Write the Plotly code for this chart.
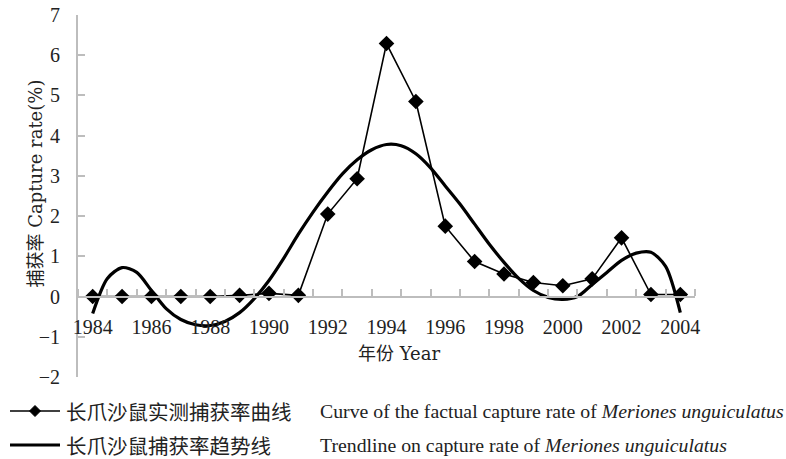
import plotly.graph_objects as go

# Observed capture rate (%)
years = list(range(1984, 2005))
capture_rate = [0, 0, 0, 0, 0, 0.03, 0.08, 0.03, 2.05, 2.93, 6.29, 4.85,
                1.75, 0.87, 0.56, 0.35, 0.27, 0.44, 1.46, 0.05, 0.05]

# Trendline (half-year samples)
trend_x = [1984.0, 1984.5, 1985.0, 1985.5, 1986.0, 1986.5, 1987.0, 1987.5,
           1988.0, 1988.5, 1989.0, 1989.5, 1990.0, 1990.5, 1991.0, 1991.5,
           1992.0, 1992.5, 1993.0, 1993.5, 1994.0, 1994.5, 1995.0, 1995.5,
           1996.0, 1996.5, 1997.0, 1997.5, 1998.0, 1998.5, 1999.0, 1999.5,
           2000.0, 2000.5, 2001.0, 2001.5, 2002.0, 2002.5, 2003.0, 2003.5,
           2004.0]
trend_y = [-0.42, 0.45, 0.72, 0.6, 0.15, -0.3, -0.57, -0.7,
           -0.72, -0.62, -0.4, -0.05, 0.4, 0.95, 1.55, 2.1,
           2.6, 3.05, 3.4, 3.65, 3.78, 3.75, 3.55, 3.2,
           2.75, 2.3, 1.8, 1.3, 0.85, 0.45, 0.15, -0.02,
           -0.07, 0.0, 0.3, 0.6, 0.9, 1.08, 1.1, 0.75,
           -0.4]

tick_years = [1984, 1986, 1988, 1990, 1992, 1994, 1996, 1998, 2000, 2002, 2004]
tick_labels = [str(y) for y in tick_years]
boundary_ticks = [1983.5 + i for i in range(22)]

W, H = 786, 459
L, R, T, B = 78, 91, 15, 82
PW, PH = W - L - R, H - T - B


def px(x):
    return (x - L) / PW


def py(y):
    return (H - B - y) / PH


SERIF = "Liberation Serif, Noto Sans CJK SC"
TITLE = "DejaVu Serif, Noto Sans CJK SC"
CJK = "Noto Sans CJK SC"
GREY = "#bdbdbd"
INK = "#222222"

fig = go.Figure()
fig.add_trace(go.Scatter(
    x=trend_x, y=trend_y, mode="lines",
    line=dict(color="black", width=3.2, shape="spline", smoothing=0.8),
    showlegend=False, hoverinfo="skip"))
fig.add_trace(go.Scatter(
    x=years, y=capture_rate, mode="lines+markers",
    line=dict(color="black", width=1.6),
    marker=dict(symbol="diamond", size=12, color="black"),
    showlegend=False))

fig.update_layout(
    width=W, height=H, autosize=False,
    margin=dict(l=L, r=R, t=T, b=B, autoexpand=False),
    paper_bgcolor="white", plot_bgcolor="white",
    font=dict(family=SERIF, color=INK, size=20),
    xaxis=dict(
        range=[1983.5, 2004.5], tickmode="array", tickvals=tick_years,
        ticktext=tick_labels, ticks="", showgrid=False, zeroline=False,
        showline=True, linecolor=GREY, linewidth=2, automargin=False,
        anchor="free", position=2 / 9, ticklabelstandoff=12,
        tickfont=dict(family=SERIF, size=20, color=INK),
        minor=dict(tickmode="array", tickvals=boundary_ticks, ticks="inside",
                   ticklen=7, tickcolor=GREY, tickwidth=2, showgrid=False),
    ),
    yaxis=dict(
        range=[-2, 7], dtick=1, tick0=0, ticks="inside", ticklen=7,
        tickcolor=GREY, tickwidth=2, showgrid=False, zeroline=False,
        showline=True, linecolor=GREY, linewidth=2, automargin=False,
        tickfont=dict(family=SERIF, size=20, color=INK),
        ticklabelstandoff=12,
    ),
)

# axis titles
fig.add_annotation(x=px(22), y=py(184), xref="paper", yref="paper",
                   text="捕获率 Capture rate(%)", showarrow=False, textangle=-90,
                   font=dict(family=TITLE, size=18, color=INK))
fig.add_annotation(x=px(399), y=py(366), xref="paper", yref="paper",
                   text="年份 Year", showarrow=False,
                   font=dict(family=TITLE, size=18, color=INK))

# legend (drawn manually)
leg_rows = [411, 445]
fig.add_shape(type="line", xref="paper", yref="paper",
              x0=px(10), x1=px(60), y0=py(leg_rows[0]), y1=py(leg_rows[0]),
              line=dict(color="black", width=1.6))
cx, cy, d = 35, leg_rows[0], 5.5
fig.add_shape(type="path", xref="paper", yref="paper",
              path=f"M {px(cx - d)} {py(cy)} L {px(cx)} {py(cy - d)} L {px(cx + d)} {py(cy)} L {px(cx)} {py(cy + d)} Z",
              fillcolor="black", line=dict(color="black", width=1))
fig.add_shape(type="line", xref="paper", yref="paper",
              x0=px(10), x1=px(60), y0=py(leg_rows[1]), y1=py(leg_rows[1]),
              line=dict(color="black", width=3.2))

leg_cn = ["长爪沙鼠实测捕获率曲线", "长爪沙鼠捕获率趋势线"]
leg_en = ["Curve of the factual capture rate of <i>Meriones unguiculatus</i>",
          "Trendline on capture rate of <i>Meriones unguiculatus</i>"]
for row, cn, en in zip(leg_rows, leg_cn, leg_en):
    fig.add_annotation(x=px(64), y=py(row), xref="paper", yref="paper",
                       xanchor="left", yanchor="middle", text=cn, showarrow=False,
                       font=dict(family=CJK, size=20.5, color=INK))
    fig.add_annotation(x=px(318), y=py(row), xref="paper", yref="paper",
                       xanchor="left", yanchor="middle", text=en, showarrow=False,
                       font=dict(family="Liberation Serif", size=19.8, color=INK))

fig.write_html("out.html", config={"displayModeBar": False},
               post_script="document.body.style.margin='0';")
